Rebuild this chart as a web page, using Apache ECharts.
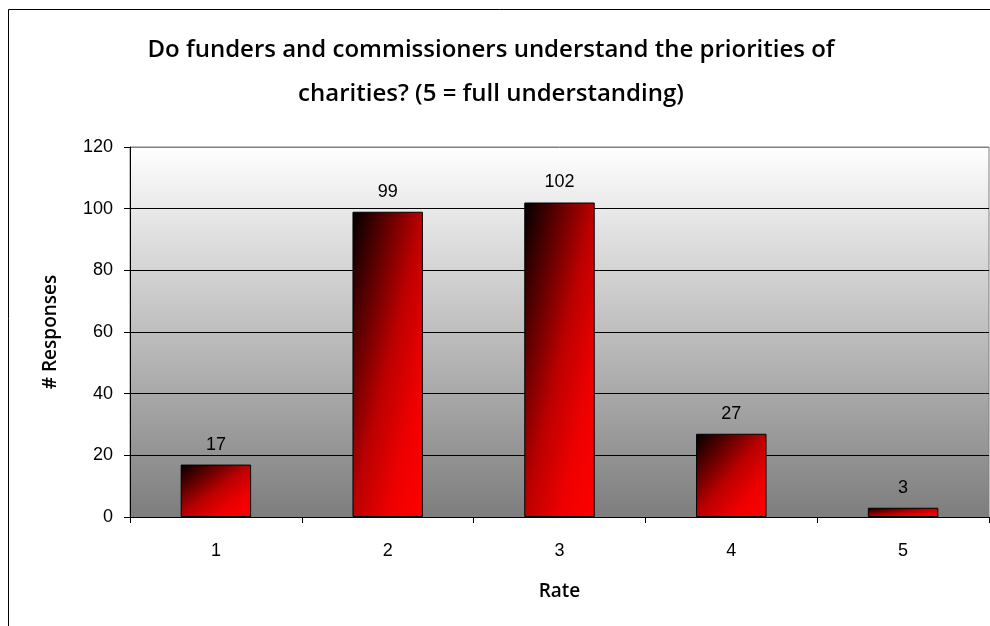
<!DOCTYPE html>
<html>
<head>
<meta charset="utf-8">
<script src="https://cdn.jsdelivr.net/npm/echarts@6/dist/echarts.min.js"></script>
<style>
html,body{margin:0;padding:0;background:#fff;}
#chart{width:990px;height:626px;}
</style>
</head>
<body>
<div id="chart"></div>
<script>
var titleText = 'Do funders and commissioners understand the priorities of\ncharities? (5 = full understanding)';
var categories = ['1', '2', '3', '4', '5'];
var responses = [17, 99, 102, 27, 3];
var yMin = 0, yMax = 120, yInterval = 20;
var xAxisName = 'Rate';
var yAxisName = '# Responses';

var chart = echarts.init(document.getElementById('chart'), null, {renderer: 'canvas'});

function barColor(x2, y2) {
  return {
    type: 'linear', x: 0, y: 0, x2: x2, y2: y2,
    colorStops: [
      {offset: 0, color: '#000000'},
      {offset: 0.5, color: '#bc0000'},
      {offset: 0.75, color: '#ee0000'},
      {offset: 1, color: '#ff0000'}
    ]
  };
}

var option = {
  animation: false,
  backgroundColor: '#ffffff',
  textStyle: {fontFamily: 'Liberation Sans, Arial, sans-serif'},
  title: {
    text: titleText,
    left: 491,
    textAlign: 'center',
    top: 28,
    padding: 0,
    textStyle: {fontFamily: 'Open Sans', fontWeight: 600, fontSize: 24, lineHeight: 44, color: '#000'}
  },
  graphic: [{
    type: 'rect', silent: true,
    shape: {x: 8.5, y: 9.5, width: 1200, height: 900},
    style: {fill: 'none', stroke: '#000', lineWidth: 1}
  }],
  grid: {
    left: 130, right: 1, top: 147, bottom: 109,
    show: true,
    backgroundColor: {
      type: 'linear', x: 0, y: 0, x2: 0, y2: 1,
      colorStops: [{offset: 0, color: '#ffffff'}, {offset: 1, color: '#7d7d7d'}]
    },
    borderColor: '#808080', borderWidth: 1
  },
  xAxis: {
    type: 'category',
    data: categories,
    boundaryGap: true,
    name: xAxisName,
    nameLocation: 'middle',
    nameGap: 65,
    nameTextStyle: {fontFamily: 'Open Sans', fontWeight: 600, fontSize: 19, color: '#000'},
    axisLine: {show: true, lineStyle: {color: '#000', width: 1}},
    axisTick: {show: true, alignWithLabel: false, length: 6, lineStyle: {color: '#000'}},
    axisLabel: {color: '#000', fontSize: 18, margin: 25, fontFamily: 'Liberation Sans'},
    splitLine: {show: false}
  },
  yAxis: {
    type: 'value',
    min: yMin, max: yMax, interval: yInterval,
    name: yAxisName,
    nameLocation: 'middle',
    nameGap: 70,
    nameRotate: 90,
    nameTextStyle: {fontFamily: 'Open Sans', fontWeight: 600, fontSize: 19, color: '#000'},
    axisLine: {show: true, lineStyle: {color: '#000', width: 1}},
    axisTick: {show: true, inside: false, length: 6, lineStyle: {color: '#000'}},
    axisLabel: {color: '#000', fontSize: 18, margin: 17, fontFamily: 'Liberation Sans'},
    splitLine: {show: true, lineStyle: {color: ['#000', '#000', '#000', '#000', '#000', '#000', '#808080'], width: 1}}
  },
  series: [{
    type: 'bar',
    data: responses.map(function (v) { return {value: v}; }),
    barWidth: '41%',
    itemStyle: {color: barColor(1, 1), borderColor: '#000', borderWidth: 1},
    label: {show: true, position: 'top', distance: 11, color: '#000', fontSize: 18, fontFamily: 'Liberation Sans'}
  }]
};
chart.setOption(option);

// Excel-style diagonal gradient: iso-lines follow the box diagonal
var x0 = chart.convertToPixel({xAxisIndex: 0}, 0);
var x1 = chart.convertToPixel({xAxisIndex: 0}, 1);
var bw = (x1 - x0) * 0.41;
var yZero = chart.convertToPixel({yAxisIndex: 0}, 0);
var styled = responses.map(function (v) {
  var h = yZero - chart.convertToPixel({yAxisIndex: 0}, v);
  var s = h * h + bw * bw;
  return {value: v, itemStyle: {color: barColor(2 * h * h / s, 2 * bw * bw / s)}};
});
chart.setOption({series: [{data: styled}]});
</script>
</body>
</html>
